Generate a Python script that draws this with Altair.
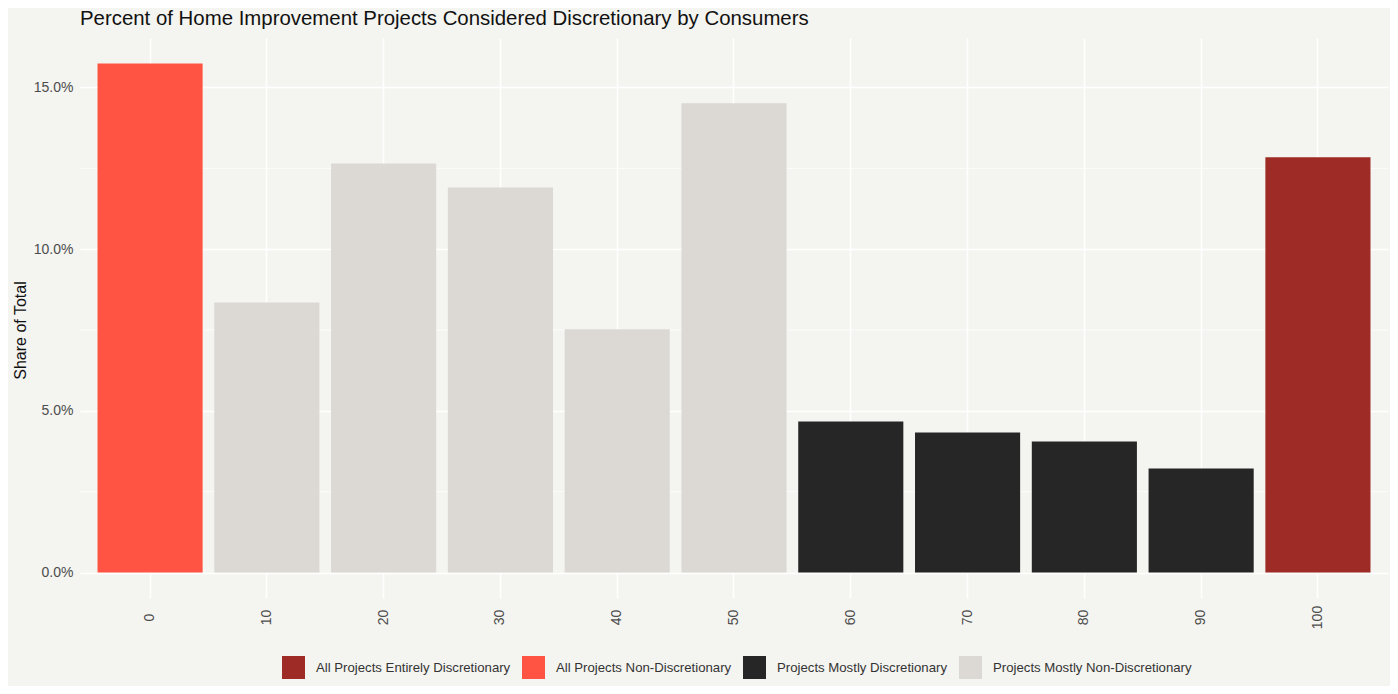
import altair as alt
import pandas as pd

categories = ["0", "10", "20", "30", "40", "50", "60", "70", "80", "90", "100"]
shares = [0.1574, 0.0835, 0.1265, 0.1191, 0.0752, 0.1451, 0.0467, 0.0433, 0.0405, 0.0322, 0.1284]
groups = [
    "All Projects Non-Discretionary",
    "Projects Mostly Non-Discretionary",
    "Projects Mostly Non-Discretionary",
    "Projects Mostly Non-Discretionary",
    "Projects Mostly Non-Discretionary",
    "Projects Mostly Non-Discretionary",
    "Projects Mostly Discretionary",
    "Projects Mostly Discretionary",
    "Projects Mostly Discretionary",
    "Projects Mostly Discretionary",
    "All Projects Entirely Discretionary",
]
group_order = [
    "All Projects Entirely Discretionary",
    "All Projects Non-Discretionary",
    "Projects Mostly Discretionary",
    "Projects Mostly Non-Discretionary",
]
group_colors = ["#9E2B25", "#FF5443", "#262626", "#DCD9D5"]
major_ticks = [0.0, 0.05, 0.10, 0.15]
minor_ticks = [0.025, 0.075, 0.125]
y_domain = [-0.00787, 0.1653]

df = pd.DataFrame({"cat": categories, "share": shares, "group": groups})
minor_df = pd.DataFrame({"v": minor_ticks})

FONT = "Liberation Sans"
BG = "#F4F4F0"

yscale = alt.Scale(domain=y_domain, nice=False, zero=False)

minor = alt.Chart(minor_df).mark_rule(color="white", strokeWidth=0.8).encode(
    y=alt.Y("v:Q", scale=yscale)
)

bars = alt.Chart(df).mark_bar().encode(
    x=alt.X(
        "cat:N",
        sort=categories,
        scale=alt.Scale(paddingInner=0.1, paddingOuter=0.15),
        axis=alt.Axis(
            title=None,
            labelAngle=270,
            labelAlign="center",
            labelBaseline="middle",
            labelPadding=19,
            labelFontSize=14,
            labelColor="#4D4D4D",
            labelFont=FONT,
            ticks=False,
            domain=False,
            grid=True,
            gridColor="white",
            gridWidth=1.5,
            bandPosition=0.5,
        ),
    ),
    y=alt.Y(
        "share:Q",
        scale=yscale,
        axis=alt.Axis(
            title="Share of Total",
            values=major_ticks,
            format=".1%",
            labelFontSize=14,
            labelColor="#4D4D4D",
            labelFont=FONT,
            labelPadding=7,
            ticks=False,
            domain=False,
            grid=True,
            gridColor="white",
            gridWidth=1.6,
            titleFont=FONT,
            titleFontSize=16,
            titleFontWeight="normal",
            titleColor="#111111",
            titleAngle=270,
            titleX=-60,
            titleY=292,
            titleAlign="center",
            titleBaseline="middle",
        ),
    ),
    color=alt.Color(
        "group:N",
        scale=alt.Scale(domain=group_order, range=group_colors),
        legend=alt.Legend(
            title=None,
            orient="none",
            direction="horizontal",
            legendX=202,
            legendY=618,
            symbolType="square",
            symbolSize=529,
            symbolStrokeWidth=0,
            symbolOpacity=1,
            labelFont=FONT,
            labelFontSize=13.2,
            labelColor="#333333",
            labelOffset=11,
            labelLimit=0,
            columnPadding=11,
        ),
    ),
)

chart = (
    alt.layer(minor, bars)
    .properties(
        width=1308,
        height=560,
        title=alt.TitleParams(
            "Percent of Home Improvement Projects Considered Discretionary by Consumers",
            anchor="start",
            frame="group",
            font=FONT,
            fontSize=20.4,
            fontWeight="normal",
            color="#111111",
            offset=9,
        ),
        autosize=alt.AutoSizeParams(type="none"),
        padding={"left": 72, "top": 30, "right": 2, "bottom": 88},
        background=BG,
    )
    .configure_view(stroke=None, fill=BG)
)

chart.save("out.html", embed_options={"renderer": "svg", "actions": False})
